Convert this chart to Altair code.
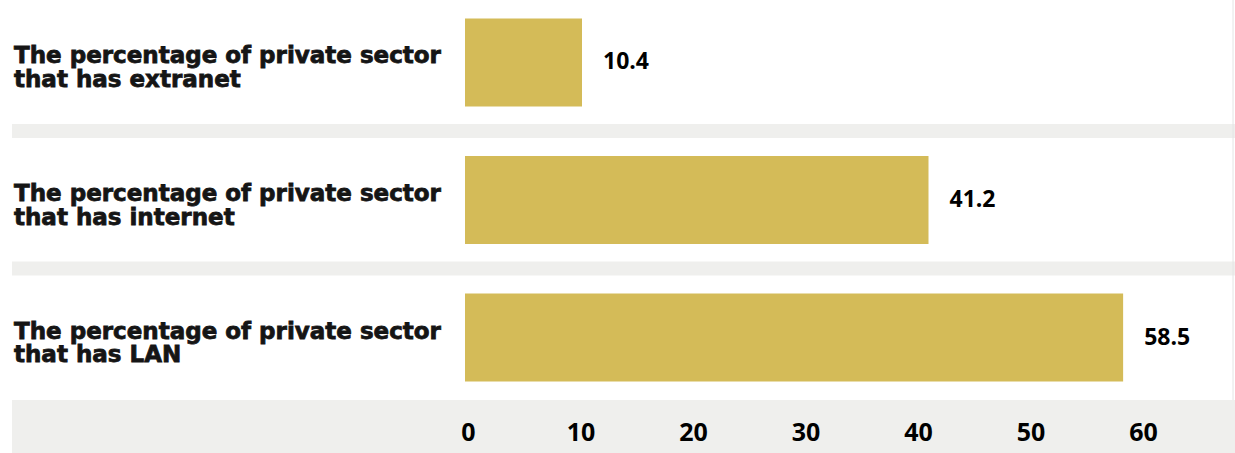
import altair as alt
import pandas as pd

categories = [
    "The percentage of private sector that has extranet",
    "The percentage of private sector that has internet",
    "The percentage of private sector that has LAN",
]
values = [10.4, 41.2, 58.5]
x_ticks = [0, 10, 20, 30, 40, 50, 60]

df = pd.DataFrame({"category": categories, "value": values})
sep_df = pd.DataFrame({"category": categories[1:]})

BAR = "#D4BB58"
BAND = "#EFEFED"

y_scale = alt.Scale(paddingInner=0.36, paddingOuter=0.1345)
y_enc = alt.Y("category:N", sort=categories, scale=y_scale, axis=None)

x_enc = alt.X(
    "value:Q",
    scale=alt.Scale(domain=[0, 60], nice=False),
    axis=alt.Axis(
        values=x_ticks, title=None, ticks=False, domain=False, grid=False,
        labelFont="Open Sans", labelFontWeight="bold", labelFontSize=25,
        labelPadding=20, labelColor="#000000", labelFlush=False, labelOffset=3,
        zindex=1,
    ),
)

bottom_band = alt.Chart(pd.DataFrame({"k": [0]})).mark_rect(color=BAND).encode(
    x=alt.value(-453), x2=alt.value(770), y=alt.value(400), y2=alt.value(453)
)

separators = alt.Chart(sep_df).mark_rule(color=BAND, strokeWidth=14, yOffset=-25).encode(
    y=alt.Y("category:N", sort=categories, scale=y_scale, axis=None, bandPosition=0),
    x=alt.value(-453), x2=alt.value(770),
)

edge = alt.Chart(pd.DataFrame({"k": [0]})).mark_rule(color="#E4E4E4", strokeWidth=1).encode(
    x=alt.value(768), y=alt.value(0), y2=alt.value(400)
)

bars = alt.Chart(df).mark_bar(color=BAR).encode(y=y_enc, x=x_enc)

cat_labels = alt.Chart(df).transform_calculate(
    lbl="replace(datum.category, ' that', '~that')"
).mark_text(
    align="left", baseline="alphabetic", lineBreak="~", lineHeight=23.5,
    font="DejaVu Sans", fontWeight="bold", fontSize=23, color="#151515",
    stroke="#151515", strokeWidth=0.8, dy=1,
).encode(
    y=y_enc,
    x=alt.value(-451),
    text="lbl:N",
)

labels = alt.Chart(df).mark_text(
    align="left", baseline="middle", dx=21, font="Open Sans",
    fontWeight="bold", fontSize=23, color="#000000",
).encode(
    y=y_enc,
    x=alt.X("value:Q"),
    text=alt.Text("value:Q", format=".1f"),
)

chart = alt.layer(bottom_band, separators, edge, bars, cat_labels, labels).properties(
    width=675,
    height=400,
    padding={"left": 465, "top": 0, "right": 95, "bottom": 53},
    autosize=alt.AutoSizeParams(type="none"),
    background="white",
).configure_view(stroke=None)

chart.save("out.html", embed_options={"renderer": "svg", "actions": False})
